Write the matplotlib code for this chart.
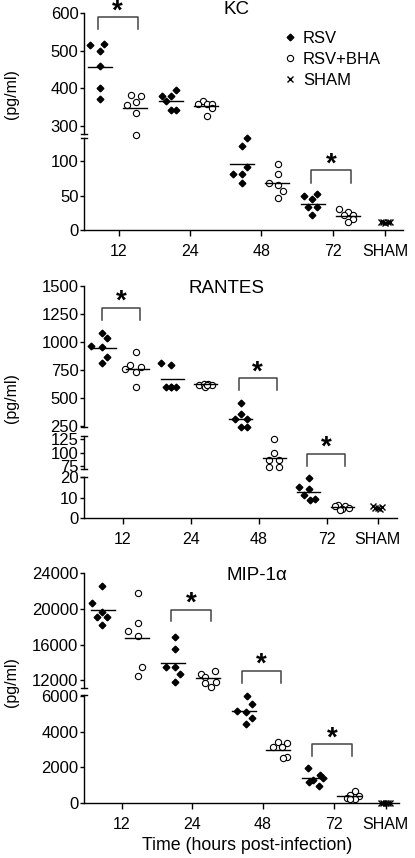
import numpy as np
import matplotlib
matplotlib.use("Agg")
import matplotlib.pyplot as plt
from matplotlib.lines import Line2D
import matplotlib.transforms as mtransforms

plt.rcParams["font.family"] = ["Liberation Sans", "DejaVu Sans"]

# ── DATA ───────────────────────────────────────────────────
times = ["12", "24", "48", "72"]

kc_rsv = [[516, 518, 498, 459, 401, 372], [397, 379, 379, 366, 344, 344],
          [134, 123, 92, 82, 82, 68], [50, 52, 45, 33, 33, 22]]
kc_bha = [[384, 379, 365, 355, 334, 278], [366, 360, 360, 360, 349, 328],
          [96, 81, 68, 66, 57, 47], [30, 26, 22, 22, 16, 11]]
kc_sham = [12, 11, 10, 11, 12]
kc_rsv_mean = [456, 366, 96, 38]
kc_bha_mean = [349, 353, 68, 20]
kc_stars = [(0, 588, 557), (3, 87, 69)]
kc_yticks = [0, 50, 100, 300, 400, 500, 600]

rantes_rsv = [[1078, 1033, 964, 952, 863, 815], [815, 795, 596, 596, 596, 596],
              [458, 360, 310, 310, 240, 240], [19.5, 15, 14.2, 11.2, 8.8, 9.1]]
rantes_bha = [[913, 795, 780, 757, 727, 596], [618, 625, 625, 618, 600, 612],
              [125, 100, 86, 86, 73.5, 73.5], [6.3, 6, 5.8, 5, 4.5, 4]]
rantes_sham = [6, 5, 5, 4.5, 5.5]
rantes_rsv_mean = [946, 670, 315, 12.9]
rantes_bha_mean = [756, 620, 89.4, 5.1]
rantes_stars = [(0, 1300, 1196), (2, 676, 571), (3, 97.4, 75.5)]
rantes_yticks = [0, 10, 20, 75, 100, 125, 250, 500, 750, 1000, 1250, 1500]

mip_rsv = [[22629, 20652, 19708, 19146, 19079, 18180], [16899, 15483, 13528, 13461, 12708, 11843],
           [6011, 5547, 5156, 5101, 4749, 4447], [1989, 1581, 1397, 1302, 1207, 966]]
mip_bha = [[21775, 17573, 18404, 17011, 13461, 12517], [13045, 12708, 12337, 11843, 11730, 11281],
           [3400, 3380, 3130, 3130, 2600, 2510], [690, 460, 410, 280, 220, 220]]
mip_sham = [40, 30, 20, 30, 10]
mip_rsv_mean = [19900, 13978, 5156, 1397]
mip_bha_mean = [16719, 12225, 2978, 408]
mip_stars = [(1, 19933, 18663), (2, 13079, 11730), (3, 3296, 2642)]
mip_yticks = [0, 2000, 4000, 6000, 12000, 16000, 20000, 24000]

# ── LAYOUT (jitter in marker steps, broken-axis knots) ─────
kc_rsv_jit = [[-2, 1, 0, 0, 0, 0], [1, -1.9, 0, -1, 0, 1], [1, 0, 1, -1.9, 0, 0], [-2.1, 0.8, -0.2, -1.2, 0.8, -0.2]]
kc_bha_jit = [[-0.7, 1.3, 0.3, -1.6, 0.3, 0.3], [-0.7, -1.7, 0.3, 1.3, 1.3, 0.3], [0.3, 0.3, -1.7, 0.3, 1.3, 0.3], [-1.9, 0, -1, 1, 1, 0]]
rantes_rsv_jit = [[-0.5, 0.5, -2.8, -0.5, 0.5, -0.5], [-2.5, -0.3, -1.4, -0.3, 0.7, -0.3], [0, 0, -1.3, 1.3, 0, 1.3], [0.1, -2, 0.1, -1, 0.2, 1.3]]
rantes_bha_jit = [[-0.4, -1.6, 0.6, -2.6, -0.4, -0.4], [-1.4, -0.5, 0.5, 1.4, -0.2, 0.3], [0, 0, -1, 1, -1, 1], [-1, 0.5, -1.5, 1.5, 0, -0.5]]
mip_rsv_jit = [[-0.2, -2.2, -0.2, -1.3, 0.9, -0.2], [0.4, 0.4, -1.6, 0.4, 1.4, 0.4], [0.7, 1.7, -1.5, 0.5, 1.7, 0.5], [-1.3, 1.1, 1.8, -0.2, -1.1, 0.9]]
mip_bha_jit = [[0.1, -2, 0.1, 0.1, 1.1, 0.1], [1.5, -1.5, -0.5, 1.7, -0.5, 0.6], [-0.1, 1.8, -1.2, 0.8, 1.9, 1], [1.3, 0.3, 2.2, -0.4, 1.3, 0.3]]
sham_jit = [-1, -0.5, 0, 0.5, 1]

W, H = 415, 858
fig = plt.figure(figsize=(W / 100, H / 100), dpi=100)


def fig_xy(x, y):
    return x / W, 1 - y / H


def panel(box, tick0, spacing, knots_v, knots_px, segs, rsv, bha, sham, rsv_m, bha_m,
          rsv_j, bha_j, stars, yticks, ymax):
    left, right, bottom = box
    height = knots_px[-1]
    ax = fig.add_axes([left / W, (H - bottom) / H, (right - left) / W, height / H])
    fwd = lambda v: np.interp(v, knots_v, knots_px)
    inv = lambda p: np.interp(p, knots_px, knots_v)
    ax.set_yscale("function", functions=(fwd, inv))
    ax.set_ylim(0, ymax)
    ax.set_xlim((left - tick0) / spacing, (right - tick0) / spacing)
    step = 4.7 / spacing
    sham_x = 3.74
    for i in range(4):
        xr = i - 0.27
        xb = i + 0.22
        ax.plot(xr + np.array(rsv_j[i]) * step, rsv[i], ls="none", marker="D", ms=3.4,
                color="black", clip_on=False)
        ax.plot(xb + np.array(bha_j[i]) * step, bha[i], ls="none", marker="o", ms=4.5,
                mfc="white", mec="black", mew=0.8, clip_on=False)
        ax.plot([xr - 0.17, xr + 0.17], [rsv_m[i], rsv_m[i]], color="black", lw=1)
        ax.plot([xb - 0.17, xb + 0.17], [bha_m[i], bha_m[i]], color="black", lw=1)
    ax.plot(sham_x + np.array(sham_jit) * step, sham, ls="none", marker="x", ms=5,
            mew=1, color="black", clip_on=False)
    for i, top, low in stars:
        x0, x1 = i - 0.3, i + 0.26
        ax.plot([x0, x0, x1, x1], [low, top, top, low], color="#444444", lw=1.1)
        ax.annotate("*", xy=((x0 + x1) / 2, top), xytext=(0, -5), textcoords="offset points",
                    ha="center", va="bottom", fontsize=20, fontweight="bold")
    # broken left spine
    ax.spines[["left", "top", "right"]].set_visible(False)
    ax.spines["bottom"].set_linewidth(1)
    tr = mtransforms.blended_transform_factory(ax.transAxes, ax.transData)
    for lo, hi in segs:
        ax.plot([0, 0], [lo, hi], color="black", lw=1, transform=tr, clip_on=False)
        for v in (lo, hi):
            if v > 0 and v < ymax:
                ax.plot([-0.008, 0.01], [v, v], color="black", lw=1, transform=tr, clip_on=False)
    ax.set_yticks(yticks)
    ax.set_yticklabels([str(t) for t in yticks])
    ax.set_xticks([0, 1, 2, 3, sham_x])
    ax.set_xticklabels(times + ["SHAM"])
    ax.tick_params(axis="y", direction="out", length=3, width=1, pad=1, labelsize=12)
    ax.tick_params(axis="x", direction="out", length=4, width=1, pad=6, labelsize=11.5)
    return ax


# ── KC ──────────────────────────────────────────────────────
ax1 = panel((84, 403, 230), 119, 71.2, [0, 136, 274, 600], [0, 93.4, 93.9, 217.1],
            [(0, 134), (279, 600)], kc_rsv, kc_bha, kc_sham, kc_rsv_mean, kc_bha_mean,
            kc_rsv_jit, kc_bha_jit, kc_stars, kc_yticks, 600)
handles = [Line2D([], [], ls="none", marker="D", ms=3.4, color="black"),
           Line2D([], [], ls="none", marker="o", ms=4.5, mfc="white", mec="black", mew=0.8),
           Line2D([], [], ls="none", marker="x", ms=5, mew=1, color="black")]
ax1.legend(handles, ["RSV", "RSV+BHA", "SHAM"], loc="upper left", frameon=False,
           bbox_to_anchor=fig_xy(283, 31), bbox_transform=fig.transFigure,
           fontsize=12, handlelength=0.8, handletextpad=0.4, labelspacing=0.35,
           borderpad=0, borderaxespad=0)

# ── RANTES ──────────────────────────────────────────────────
ax2 = panel((84, 396.7, 517.7), 122.7, 68.2,
            [0, 20.5, 70, 131, 225, 1500], [0, 41.4, 49.05, 81.6, 88.9, 232],
            [(0, 20.2), (69.4, 131), (244, 1500)], rantes_rsv, rantes_bha, rantes_sham,
            rantes_rsv_mean, rantes_bha_mean, rantes_rsv_jit, rantes_bha_jit,
            rantes_stars, rantes_yticks, 1500)

# ── MIP-1α ──────────────────────────────────────────────────
ax3 = panel((84, 399, 803.3), 121.7, 70.6,
            [0, 6100, 11000, 24000], [0, 109.2, 114.2, 230],
            [(0, 6050), (11160, 24000)], mip_rsv, mip_bha, mip_sham,
            mip_rsv_mean, mip_bha_mean, mip_rsv_jit, mip_bha_jit,
            mip_stars, mip_yticks, 24000)

# ── TEXT ────────────────────────────────────────────────────
for (x, y), s in [((236.7, 10), "KC"), ((226.7, 288.3), "RANTES"), ((256.7, 575), "MIP-1α")]:
    fig.text(*fig_xy(x, y), s, ha="center", va="center", fontsize=13.5)
for y in (94, 398, 681.7):
    fig.text(*fig_xy(11, y), "(pg/ml)", ha="center", va="center", rotation=90, fontsize=11.5)
fig.text(*fig_xy(247.5, 846), "Time (hours post-infection)", ha="center", va="center", fontsize=12.8)

plt.savefig("out.png", dpi=100)
